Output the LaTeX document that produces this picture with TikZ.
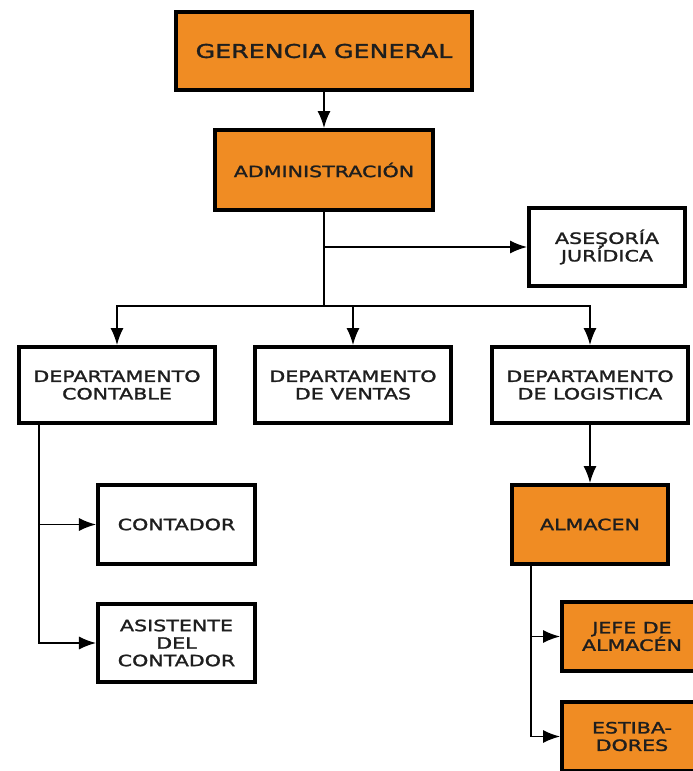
\documentclass[tikz,border=0pt]{standalone}
\usepackage{fontspec}
\newfontfamily\orgfont[FakeStretch=1.33, FakeBold=1.6]{DejaVu Sans}
\usetikzlibrary{shapes, arrows.meta}
\definecolor{orgorange}{RGB}{240,140,35}
\definecolor{orgtext}{RGB}{30,30,30}

\begin{document}
\begin{tikzpicture}
	  [node distance = 236pt, auto,
	  %
	  block/.style={rectangle, draw, line width=4pt, fill=white, text=orgtext, align=center, inner sep=0pt, font=\orgfont\fontsize{15.5}{17.5}\selectfont, minimum width=196pt, minimum height=76pt},
	  %
	  orangeblock/.style={block, fill=orgorange},
	  %
	  customline/.style={draw = black, line width=1.4pt, arrows={-Latex[length=17pt, width=13pt]}},
	  %
	  customrev/.style={draw = black, line width=1.4pt, arrows={Latex[length=17pt, width=13pt]-}}]

	    \useasboundingbox (-324pt, 51pt) rectangle (369pt, -720pt);
	    \clip (-324pt, 51pt) rectangle (369pt, -720pt);

	    \node [orangeblock, minimum width=296pt, minimum height=78pt, font=\orgfont\fontsize{19}{22}\selectfont] (gerencia) {GERENCIA GENERAL};
	    \node [orangeblock, below of=gerencia, yshift=117pt, minimum width=218pt, minimum height=80pt] (admin) {ADMINISTRACIÓN};
	    \node [block, right of=admin, xshift=47pt, yshift=-77pt, minimum width=156pt, minimum height=78pt] (asesoria) {ASEŞORÍA\\JURÍDICA};
	    \node [block, below of=admin, xshift=29pt, yshift=21pt] (dventas) {DEPARTAMENTO\\DE VENTAS};
	    \node [block, left of=dventas] (dcontable) {DEPARTAMENTO\\CONTABLE};
	    \node [block, right of=dventas, xshift=1pt] (dlogistica) {DEPARTAMENTO\\DE LOGISTICA};
	    \node [block, below of=dcontable, xshift=59.5pt, yshift=96.5pt, minimum width=157pt, minimum height=79pt] (contador) {CONTADOR};
	    \node [block, below of=contador, yshift=117.5pt, minimum width=157pt, minimum height=78pt] (asistente) {ASISTENTE\\DEL\\CONTADOR};
	    \node [orangeblock, below of=dlogistica, yshift=96.5pt, minimum width=156pt, minimum height=79pt] (almacen) {ALMACEN};
	    \node [orangeblock, below of=almacen, xshift=50pt, yshift=124pt, minimum width=156pt, minimum height=69pt] (jefe) {\hspace*{-16pt}JEFE DE\\\hspace*{-16pt}ALMACÉN};
	    \node [orangeblock, below of=jefe, yshift=136pt, minimum width=156pt, minimum height=69pt] (estibadores) {\hspace*{-16pt}ESTIBA-\\\hspace*{-16pt}DORES};

	    \draw [customline] (gerencia) -- (admin);
	    \draw [customline] (admin) |- (asesoria);
	    \draw [customline] (admin) -- +(0, -136pt) -| (dcontable);
	    \draw [customline] (admin) -- +(0, -136pt) -| (dventas);
	    \draw [customline] (admin) -- +(0, -136pt) -| (dlogistica);
	    \draw [customrev] (contador) -| ([xshift=22pt]dcontable.south west);
	    \draw [customrev] (asistente) -| ([xshift=22pt]dcontable.south west);
	    \draw [customline] (dlogistica) -- (almacen);
	    \draw [customrev] (jefe) -| ([xshift=21pt]almacen.south west);
	    \draw [customrev] (estibadores) -| ([xshift=21pt]almacen.south west);
	  \end{tikzpicture}
\end{document}
